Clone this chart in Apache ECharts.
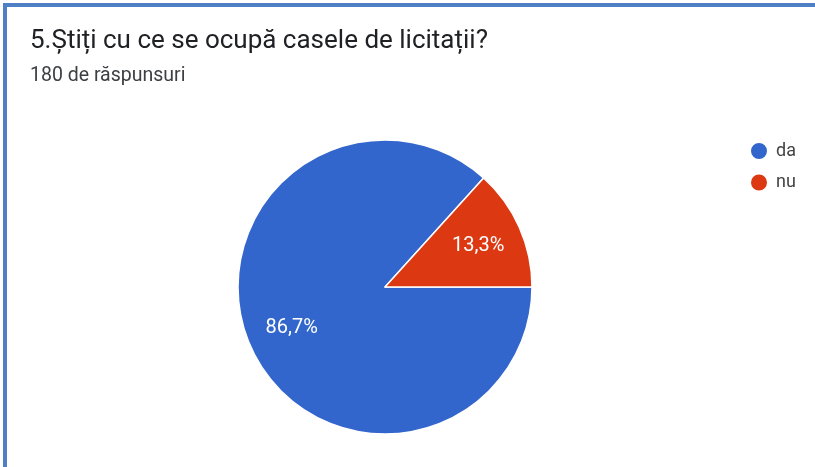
<!DOCTYPE html>
<html>
<head>
<meta charset="utf-8">
<script src="https://cdn.jsdelivr.net/npm/echarts@6/dist/echarts.min.js"></script>
<style>
html,body{margin:0;padding:0;background:#fff;}
#wrap{position:relative;width:815px;height:467px;overflow:hidden;}
#chart{position:absolute;left:0;top:0;width:815px;height:467px;}
#frame{position:absolute;left:3px;top:3px;width:830px;height:462px;border-top:4px solid #4f80c6;border-left:4px solid #4f80c6;border-bottom:1px solid #dde6f3;pointer-events:none;}
</style>
</head>
<body>
<div id="wrap"><div id="chart"></div><div id="frame"></div></div>
<script>
const titleText = '5.Știți cu ce se ocupă casele de licitații?';
const subtitleText = '180 de răspunsuri';
const categories = ['da', 'nu'];
const values = [86.7, 13.3];
const labels = ['86,7%', '13,3%'];
const colors = ['#3366cc', '#dc3912'];

const chart = echarts.init(document.getElementById('chart'), null, {renderer: 'canvas'});
const pieData = categories.map((c, i) => ({name: c, value: values[i], itemStyle: {color: colors[i]}}));
const labelData = categories.map((c, i) => ({name: c, value: values[i], label: {formatter: labels[i]}}));
chart.setOption({
  backgroundColor: '#ffffff',
  animation: false,
  title: [
    {text: titleText, left: 25, top: 23, textStyle: {fontFamily: 'Roboto', fontSize: 26, fontWeight: 'normal', color: '#202124'}},
    {text: subtitleText, left: 25, top: 61, textStyle: {fontFamily: 'Roboto', fontSize: 19.5, fontWeight: 'normal', color: '#3c4043'}}
  ],
  legend: {
    orient: 'vertical', left: 744, top: 136, icon: 'circle', itemWidth: 18, itemHeight: 18, itemGap: 11.5,
    data: categories,
    textStyle: {fontFamily: 'Roboto', fontSize: 18, color: '#444', padding: [0, 0, 0, 3]}
  },
  series: [
    {
      type: 'pie', center: [385, 287], radius: [0, 147], startAngle: 0, clockwise: true,
      data: pieData, label: {show: false}, labelLine: {show: false},
      itemStyle: {borderColor: '#ffffff', borderWidth: 1.5}, emphasis: {disabled: true}
    },
    {
      type: 'pie', center: [385, 287], radius: [0, 198], startAngle: 0, clockwise: true, silent: true,
      legendHoverLink: false,
      data: labelData, itemStyle: {color: 'rgba(0,0,0,0)'},
      label: {show: true, position: 'inside', color: '#ffffff', fontFamily: 'Roboto', fontSize: 20},
      labelLine: {show: false}, emphasis: {disabled: true}
    }
  ]
});
</script>
</body>
</html>
